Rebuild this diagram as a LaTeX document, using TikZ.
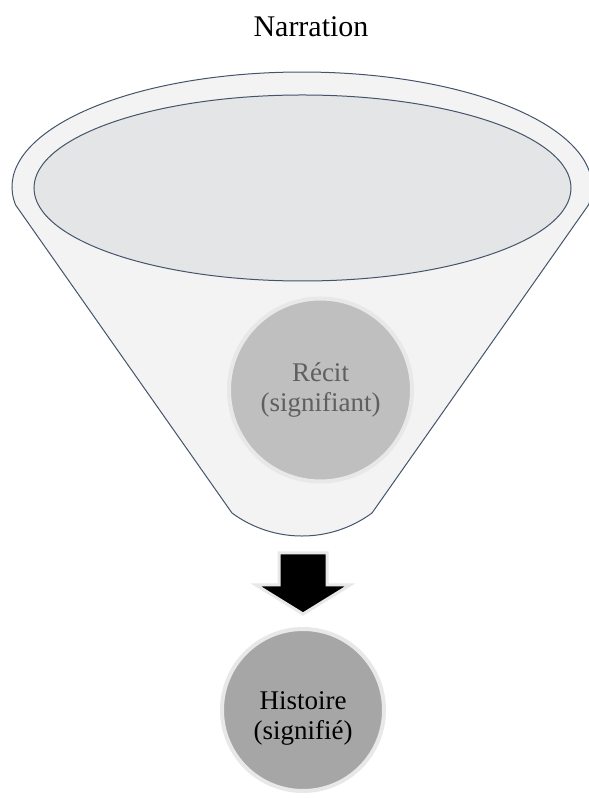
\documentclass[tikz,border=0pt]{standalone}
\usepackage{fontspec}
\setmainfont{Liberation Serif}
\usetikzlibrary{positioning}

\definecolor{funnelline}{HTML}{44546A}
\definecolor{funnelfill}{HTML}{F3F3F3}
\definecolor{innerfill}{HTML}{E4E5E7}
\definecolor{rimgray}{HTML}{E8E8E8}
\definecolor{recitfill}{HTML}{BFBFBF}
\definecolor{recittext}{HTML}{5F5F5F}
\definecolor{histfill}{HTML}{A6A6A6}

\begin{document}
\begin{tikzpicture}[x=1pt,y=1pt,
  rim/.style={circle,draw=rimgray,line width=4pt,align=center,inner sep=0pt,
    font=\fontsize{27}{30}\selectfont}]
 \useasboundingbox (0,0) rectangle (589,798);
 \node[anchor=base] (title) at (311,761) {\fontsize{30}{34}\selectfont Narration};
 % funnel
 \draw[funnelline,fill=funnelfill,line width=1pt,line join=round]
   (15.6,593) arc[start angle=189,end angle=-9,x radius=290,y radius=115]
   -- (372,285) arc[start angle=-53.6,end angle=-126.4,radius=118] -- cycle;
 \draw[funnelline,fill=innerfill,line width=1pt] (302.5,610) ellipse [x radius=268.5,y radius=93];
 \node[rim,fill=recitfill,text=recittext,minimum size=183pt] (recit) at (320.5,408) {Récit\\(signifiant)};
 % arrow
 \filldraw[draw=rimgray,line width=3pt,fill=black,line join=miter]
   (279,245) -- (327,245) -- (327,213) -- (350,213) -- (303,184) -- (256,213) -- (279,213) -- cycle;
 \node[rim,fill=histfill,minimum size=162pt] (histoire) at (303,88) {\raisebox{-9pt}[\height][\depth]{\begin{tabular}{@{}c@{}}Histoire\\(signifié)\end{tabular}}};
\end{tikzpicture}
\end{document}
